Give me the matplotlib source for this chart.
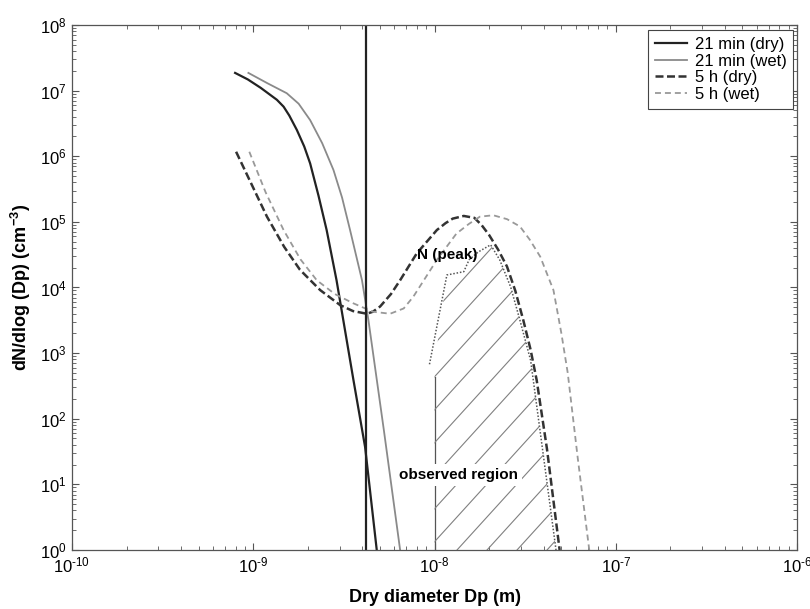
import matplotlib
matplotlib.use("Agg")
import matplotlib.pyplot as plt
import numpy as np
from matplotlib.patches import Polygon
from matplotlib.ticker import LogLocator, NullFormatter, FuncFormatter

plt.rcParams['font.family'] = ['Liberation Sans', 'DejaVu Sans']
plt.rcParams['mathtext.fontset'] = 'custom'
plt.rcParams['mathtext.rm'] = 'Liberation Sans'
plt.rcParams['mathtext.it'] = 'Liberation Sans:italic'
plt.rcParams['mathtext.bf'] = 'Liberation Sans:bold'
plt.rcParams['axes.unicode_minus'] = False

# 21 min (dry)
dry21_dp = [7.94e-10, 9.33e-10, 1.10e-9, 1.35e-9, 1.47e-9, 1.58e-9, 1.74e-9, 1.91e-9,
            2.06e-9, 2.29e-9, 2.54e-9, 2.88e-9, 3.57e-9, 4.14e-9, 4.80e-9]
dry21_n = [1.86e7, 1.48e7, 1.10e7, 7.24e6, 5.69e6, 4.17e6, 2.51e6, 1.41e6,
           7.76e5, 2.51e5, 7.50e4, 1.29e4, 389, 37, 1]

# 21 min (wet)
wet21_dp = [9.40e-10, 1.20e-9, 1.53e-9, 1.78e-9, 2.06e-9, 2.40e-9, 2.77e-9, 3.09e-9,
            3.42e-9, 3.98e-9, 4.32e-9, 5.25e-9, 6.46e-9]
wet21_n = [1.86e7, 1.29e7, 9.12e6, 6.31e6, 3.55e6, 1.58e6, 6.17e5, 2.34e5,
           7.50e4, 1.29e4, 3.16e3, 68, 1]

# 5 h (dry)
dry5_dp = [8.04e-10, 1.19e-9, 1.48e-9, 1.81e-9, 2.34e-9, 3.02e-9, 3.55e-9, 4.23e-9, 4.57e-9,
           5.01e-9, 5.75e-9, 6.46e-9, 7.98e-9, 1.03e-8, 1.15e-8, 1.26e-8, 1.45e-8, 1.66e-8,
           1.82e-8, 2.00e-8, 2.24e-8, 2.51e-8, 2.79e-8, 3.09e-8, 3.39e-8, 3.66e-8, 4.17e-8, 4.90e-8]
dry5_n = [1.17e6, 1.20e5, 4.17e4, 1.86e4, 9.12e3, 5.37e3, 4.37e3, 3.98e3, 4.27e3,
          5.13e3, 7.94e3, 1.29e4, 3.31e4, 7.50e4, 9.55e4, 1.12e5, 1.23e5, 1.15e5,
          8.91e4, 6.31e4, 3.80e4, 2.09e4, 8.91e3, 3.16e3, 1.12e3, 389, 35, 1]

# 5 h (wet)
wet5_dp = [9.51e-10, 1.17e-9, 1.47e-9, 1.82e-9, 2.24e-9, 2.82e-9, 3.56e-9, 4.57e-9, 5.69e-9,
           6.76e-9, 7.64e-9, 1.03e-8, 1.32e-8, 1.55e-8, 1.78e-8, 2.11e-8, 2.51e-8, 2.96e-8,
           3.35e-8, 3.83e-8, 4.53e-8, 5.01e-8, 5.43e-8, 6.17e-8, 7.14e-8]
wet5_n = [1.17e6, 2.82e5, 7.50e4, 2.69e4, 1.29e4, 7.94e3, 5.75e3, 4.27e3, 3.98e3,
          4.79e3, 7.24e3, 2.63e4, 6.61e4, 9.33e4, 1.20e5, 1.26e5, 1.10e5, 8.51e4,
          5.37e4, 2.95e4, 9.12e3, 2.0e3, 501, 25, 1]

# observed region outline (dotted)
obs_dp = [9.38e-9, 1.17e-8, 1.45e-8, 1.55e-8, 1.74e-8, 2.04e-8, 2.29e-8, 2.63e-8, 2.96e-8, 3.39e-8, 4.68e-8]
obs_n = [676, 1.55e4, 1.74e4, 2.63e4, 3.47e4, 4.47e4, 2.63e4, 1.02e4, 3.16e3, 776, 1]

cutoff_dp = 4.17e-9
obs_edge_dp = 1e-8
obs_edge_top = 437


def pow10_label(v, pos):
    k = int(round(np.log10(v)))
    if k < 0:
        return '$10^{\\text{-}%d}$' % (-k)
    return '$10^{%d}$' % k


fig = plt.figure(figsize=(8.1, 6.09), dpi=100)
ax = fig.add_axes([0.0889, 0.0969, 0.8951, 0.8621])
ax.set_xscale('log')
ax.set_yscale('log')
ax.set_xlim(1e-10, 1e-6)
ax.set_ylim(1e0, 1e8)

ax.plot(dry21_dp, dry21_n, color='#222222', lw=1.6, label='21 min (dry)')
ax.plot(wet21_dp, wet21_n, color='#8a8a8a', lw=1.3, label='21 min (wet)')
ax.plot(dry5_dp, dry5_n, color='#333333', lw=1.8, ls=(0, (3.2, 1.4)), label='5 h (dry)')
ax.plot(wet5_dp, wet5_n, color='#999999', lw=1.3, ls=(0, (3.3, 2.2)), label='5 h (wet)')

ax.axvline(cutoff_dp, color='#222222', lw=1.6)

# observed region: dotted outline, left edge, hatch
ax.plot(obs_dp, obs_n, color='#555555', lw=1.1, ls=(0, (1, 1.2)))
ax.plot([obs_edge_dp, obs_edge_dp], [1, obs_edge_top], color='#555555', lw=0.9)

verts = [(obs_edge_dp, obs_n[0])] + list(zip(obs_dp[1:], obs_n[1:])) + [(obs_edge_dp, 1)]
region = Polygon(verts, closed=True, transform=ax.transData,
                 facecolor='none', edgecolor='none')
ax.add_patch(region)
w_px, h_px = 725.0, 525.0
slope = 1.1 * w_px / h_px
step = 30.0 / w_px
for x0 in np.arange(-1.0, 1.0, step):
    ln, = ax.plot([x0, x0 + 1.0 / slope], [0, 1], transform=ax.transAxes,
                  color='#808080', lw=0.8)
    ln.set_clip_path(region)

ax.text(7.98e-9, 3.1e4, 'N (peak)', fontsize=11, fontweight='bold', ha='left', va='center')
ax.text(6.37e-9, 14, 'observed region', fontsize=11, fontweight='bold', ha='left', va='center',
        bbox=dict(facecolor='white', edgecolor='none', pad=3))

ax.set_xlabel('Dry diameter Dp (m)', fontsize=13, fontweight='bold', labelpad=10)
ax.set_ylabel('dN/dlog (Dp) (cm$^{\\mathbf{-3}}$)', fontsize=13, fontweight='bold', labelpad=5)

ax.xaxis.set_major_locator(LogLocator(base=10, numticks=10))
ax.yaxis.set_major_locator(LogLocator(base=10, numticks=12))
ax.xaxis.set_major_formatter(FuncFormatter(pow10_label))
ax.yaxis.set_major_formatter(FuncFormatter(pow10_label))
ax.xaxis.set_minor_locator(LogLocator(base=10, subs=np.arange(2, 10), numticks=20))
ax.yaxis.set_minor_locator(LogLocator(base=10, subs=np.arange(2, 10), numticks=20))
ax.xaxis.set_minor_formatter(NullFormatter())
ax.yaxis.set_minor_formatter(NullFormatter())
ax.tick_params(which='both', direction='in', top=True, right=True, colors='#555555',
               labelcolor='black', labelsize=12)
ax.tick_params(which='major', length=5, width=0.8, pad=4)
ax.tick_params(which='minor', length=3, width=0.6)
for sp in ax.spines.values():
    sp.set_color('#555555')
    sp.set_linewidth(0.9)

leg = ax.legend(loc='upper right', bbox_to_anchor=(0.995, 0.99), borderaxespad=0,
                fontsize=12, frameon=True, fancybox=False, framealpha=1,
                handlelength=1.9, handletextpad=0.5, labelspacing=0.1)
leg.get_frame().set_edgecolor('#444444')
leg.get_frame().set_linewidth(0.8)

plt.savefig('out.png', dpi=100)
